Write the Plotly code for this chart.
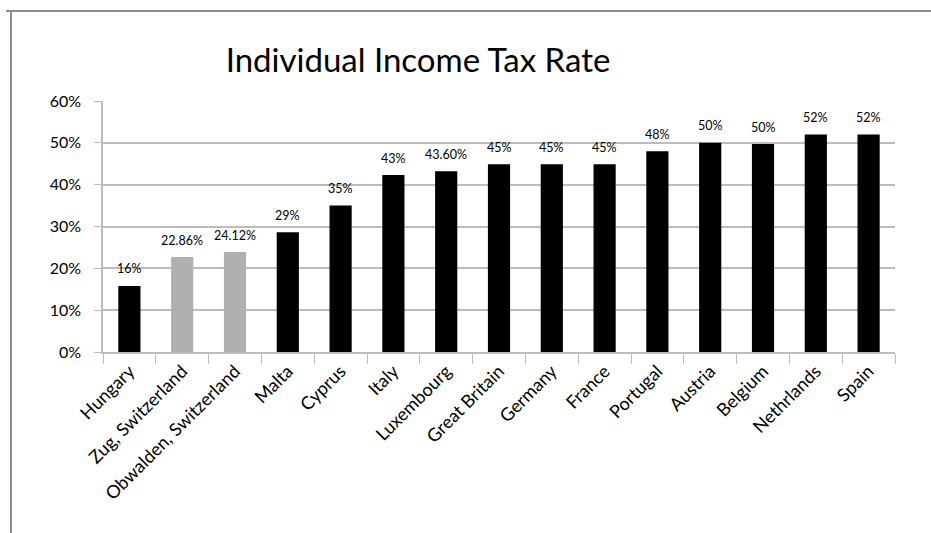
import plotly.graph_objects as go

categories = ["Hungary", "Zug, Switzerland", "Obwalden, Switzerland", "Malta", "Cyprus",
              "Italy", "Luxembourg", "Great Britain", "Germany", "France", "Portugal",
              "Austria", "Belgium", "Nethrlands", "Spain"]
rates = [0.158, 0.227, 0.239, 0.286, 0.35, 0.423, 0.432, 0.449, 0.449, 0.449,
         0.48, 0.50, 0.497, 0.52, 0.52]
labels = ["16%", "22.86%", "24.12%", "29%", "35%", "43%", "43.60%", "45%", "45%",
          "45%", "48%", "50%", "50%", "52%", "52%"]
bar_colors = ["#000000", "#b0b0b0", "#b0b0b0"] + ["#000000"] * 12
y_ticks = [0, 0.1, 0.2, 0.3, 0.4, 0.5, 0.6]
y_tick_text = ["0%", "10%", "20%", "30%", "40%", "50%", "60%"]

FONT = "Lato"

fig = go.Figure(go.Bar(
    x=categories, y=rates, marker=dict(color=bar_colors, line=dict(width=0)),
    hoverinfo="skip",
))

annotations = [
    dict(x=c, y=v, xref="x", yref="y", text=t, showarrow=False,
         yanchor="middle", xanchor="center", yshift=17,
         font=dict(family=FONT, size=12.5, color="#000000"))
    for c, v, t in zip(categories, rates, labels)
]

fig.update_layout(
    width=931, height=533,
    margin=dict(l=103, r=36, t=101, b=181),
    paper_bgcolor="white", plot_bgcolor="white",
    bargap=0.58,
    showlegend=False,
    font=dict(family=FONT, color="#000000"),
    title=dict(text="Individual Income Tax Rate", x=418/931, xanchor="center",
               y=1 - 60/533, yanchor="middle",
               font=dict(family=FONT, size=33, color="#000000")),
    xaxis=dict(
        type="category", tickangle=-45, tickfont=dict(size=18, family=FONT),
        showline=True, linecolor="#bcbcbc", linewidth=1.5,
        ticks="outside", ticklen=10, tickcolor="#bcbcbc", tickson="boundaries",
        showgrid=False, range=[-0.5, 14.5], automargin=False,
    ),
    yaxis=dict(
        range=[0, 0.6], tickvals=y_ticks, ticktext=y_tick_text,
        tickfont=dict(size=16, family=FONT),
        showgrid=True, gridcolor="#bcbcbc", gridwidth=1.5,
        showline=True, linecolor="#bcbcbc", linewidth=1.5,
        ticks="outside", ticklen=7, tickcolor="#bcbcbc", zeroline=False,
        automargin=False, ticklabelstandoff=10,
    ),
    annotations=annotations,
    shapes=[
        dict(type="line", xref="paper", yref="paper", x0=-0.1225, x1=1.05,
             y0=1.3586, y1=1.3586, line=dict(color="#8c8c8c", width=2)),
        dict(type="line", xref="paper", yref="paper", x0=-0.1162, x1=-0.1162,
             y0=1.3586, y1=-0.75, line=dict(color="#8c8c8c", width=2)),
    ],
)

fig.write_html("out.html", config={"displayModeBar": False},
               post_script="document.body.style.margin='0';")
